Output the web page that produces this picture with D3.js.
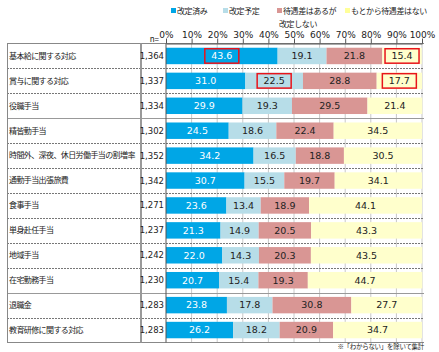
<!DOCTYPE html>
<html>
<head>
<meta charset="utf-8">
<script src="https://cdn.jsdelivr.net/npm/d3@7"></script>
<style>
  body { margin: 0; background: #fff; }
  svg { display: block; }
  text { font-family: "Noto Sans CJK JP", sans-serif; }
  .num { font-family: "DejaVu Sans", sans-serif; }
</style>
</head>
<body>
<div id="chart"></div>
<script>
// 処遇改善の状況（項目別）
var categories = ['基本給に関する対応', '賞与に関する対応', '役職手当', '精皆勤手当',
  '時間外、深夜、休日労働手当の割増率', '通勤手当出張旅費', '食事手当', '単身赴任手当',
  '地域手当', '在宅勤務手当', '退職金', '教育研修に関する対応'];
var nLabels = ['1,364', '1,337', '1,334', '1,302', '1,352', '1,342', '1,271', '1,237', '1,242', '1,230', '1,283', '1,283'];

var seriesNames = ['改定済み', '改定予定', '待遇差はあるが改定しない', 'もとから待遇差はない'];
var revised   = [43.6, 31.0, 29.9, 24.5, 34.2, 30.7, 23.6, 21.3, 22.0, 20.7, 23.8, 26.2];
var planned   = [19.1, 22.5, 19.3, 18.6, 16.5, 15.5, 13.4, 14.9, 14.3, 15.4, 17.8, 18.2];
var notRevise = [21.8, 28.8, 29.5, 22.4, 18.8, 19.7, 18.9, 20.5, 20.3, 19.3, 30.8, 20.9];
var noGap     = [15.4, 17.7, 21.4, 34.5, 30.5, 34.1, 44.1, 43.3, 43.5, 44.7, 27.7, 34.7];
var tickValues = [0, 10, 20, 30, 40, 50, 60, 70, 80, 90, 100];
// 赤枠で強調されたラベル [行, 系列]
var highlights = [[0, 0], [0, 3], [1, 1], [1, 3]];
// 実線で区切られた行の下
var solidAfter = [2, 9];

var colors = ['#00A6E6', '#B7DDE8', '#D99694', '#FFFFCC'];
var textColors = ['#fff', '#222', '#222', '#222'];

var width = 439, height = 352;
var tableLeft = 7, tableRight = 424, labelDiv = 141;
var plotTop = 43.5, plotBottom = 342.5;

var svg = d3.select('#chart').append('svg')
    .attr('width', width)
    .attr('height', height);

var x = d3.scaleLinear().domain([0, 100]).range([166, 422]);
var y = d3.scaleBand().domain(d3.range(categories.length)).range([plotTop, plotBottom])
    .paddingInner(0.34).paddingOuter(0.17);
var step = y.step();
var rowTop = function(i) { return plotTop + i * step; };

var values = [revised, planned, notRevise, noGap];

// gridlines
svg.append('g').selectAll('line').data(tickValues.slice(1))
  .enter().append('line')
    .attr('x1', d => x(d)).attr('x2', d => x(d))
    .attr('y1', plotTop).attr('y2', plotBottom)
    .attr('stroke', '#c8c8c8').attr('stroke-width', 1);

// row separators
svg.append('g').selectAll('line').data(d3.range(1, categories.length))
  .enter().append('line')
    .attr('x1', tableLeft).attr('x2', tableRight)
    .attr('y1', i => Math.round(rowTop(i)) + 0.5).attr('y2', i => Math.round(rowTop(i)) + 0.5)
    .attr('stroke', i => solidAfter.indexOf(i - 1) >= 0 ? '#999' : '#777')
    .attr('stroke-width', 1)
    .attr('stroke-dasharray', i => solidAfter.indexOf(i - 1) >= 0 ? null : '2,1');

// stacked bars
var stack = d3.stack().keys([0, 1, 2, 3]).value((d, k) => values[k][d]);
var stacked = stack(d3.range(categories.length));

var layers = svg.append('g').selectAll('g').data(stacked)
  .enter().append('g')
    .attr('fill', (d, i) => colors[i]);

layers.selectAll('rect').data(d => d)
  .enter().append('rect')
    .attr('x', d => x(d[0]))
    .attr('width', d => x(d[1]) - x(d[0]))
    .attr('y', (d, i) => y(i))
    .attr('height', y.bandwidth());

layers.selectAll('text').data(d => d)
  .enter().append('text')
    .attr('class', 'num')
    .attr('x', d => (x(d[0]) + x(d[1])) / 2)
    .attr('y', (d, i) => y(i) + y.bandwidth() / 2)
    .attr('dy', '0.35em')
    .attr('text-anchor', 'middle')
    .attr('font-size', 9.5)
    .attr('fill', function() { return textColors[d3.select(this.parentNode).datum().key]; })
    .text(function(d, i) { return values[d3.select(this.parentNode).datum().key][i].toFixed(1); });

// red boxes
svg.append('g').selectAll('rect').data(highlights)
  .enter().append('rect')
    .attr('x', h => (x(stacked[h[1]][h[0]][0]) + x(stacked[h[1]][h[0]][1])) / 2 - 17)
    .attr('y', h => y(h[0]) + 1)
    .attr('width', 34)
    .attr('height', y.bandwidth() - 2)
    .attr('fill', 'none')
    .attr('stroke', '#E8141B')
    .attr('stroke-width', 1.5);

// table frame (no right border)
var frame = svg.append('g').attr('stroke', '#888').attr('fill', 'none');
frame.append('line').attr('x1', tableLeft).attr('x2', tableRight).attr('y1', plotTop).attr('y2', plotTop);
frame.append('line').attr('x1', tableLeft).attr('x2', tableRight).attr('y1', plotBottom).attr('y2', plotBottom);
frame.append('line').attr('x1', tableLeft + 0.5).attr('x2', tableLeft + 0.5).attr('y1', plotTop).attr('y2', plotBottom);
svg.append('line')
    .attr('x1', labelDiv).attr('x2', labelDiv).attr('y1', plotTop).attr('y2', plotBottom)
    .attr('stroke', '#999').attr('stroke-width', 2);

// category labels and n
var rows = svg.append('g').selectAll('g').data(categories)
  .enter().append('g');
rows.append('text')
    .attr('x', 9)
    .attr('y', (d, i) => y(i) + y.bandwidth() / 2)
    .attr('dy', '0.35em')
    .attr('font-size', 8)
    .attr('letter-spacing', -0.6)
    .attr('fill', '#222')
    .text(d => d);
rows.append('text')
    .attr('class', 'num')
    .attr('x', 164)
    .attr('y', (d, i) => y(i) + y.bandwidth() / 2)
    .attr('dy', '0.35em')
    .attr('text-anchor', 'end')
    .attr('font-size', 8.5)
    .attr('fill', '#222')
    .text((d, i) => nLabels[i]);

// top axis
var axis = svg.append('g')
    .attr('transform', 'translate(0,' + plotTop + ')')
    .call(d3.axisTop(x).tickValues(tickValues).tickFormat(d => d + '%').tickSize(5).tickSizeOuter(0));
axis.select('.domain').attr('stroke', '#555');
axis.selectAll('.tick line').attr('stroke', '#555');
axis.selectAll('.tick text').attr('class', 'num').attr('font-size', 9).attr('fill', '#222')
    .attr('y', -6).attr('dy', 0);

svg.append('line')
    .attr('x1', x(0)).attr('x2', x(0)).attr('y1', plotTop).attr('y2', plotBottom)
    .attr('stroke', '#555');

svg.append('text')
    .attr('x', 159).attr('y', 42)
    .attr('text-anchor', 'end')
    .attr('font-size', 8).attr('fill', '#222')
    .text('n=');

// legend
var legendX = [171, 223, 277, 345];
var legend = svg.append('g').selectAll('g').data(seriesNames)
  .enter().append('g')
    .attr('transform', (d, i) => 'translate(' + legendX[i] + ',11)');
legend.append('rect')
    .attr('x', 0).attr('y', -3).attr('width', 5).attr('height', 5)
    .attr('fill', (d, i) => colors[i] === '#FFFFCC' ? '#FFFF99' : colors[i]);
legend.append('text')
    .attr('x', 6).attr('dy', '0.35em')
    .attr('font-size', 8).attr('letter-spacing', -0.4).attr('fill', '#222')
    .text(d => d === '待遇差はあるが改定しない' ? '待遇差はあるが' : d);
svg.append('text')
    .attr('x', 279).attr('y', 24).attr('dy', '0.35em')
    .attr('font-size', 8).attr('letter-spacing', -0.4).attr('fill', '#222')
    .text('改定しない');

// footnote
svg.append('text')
    .attr('x', 424).attr('y', 347).attr('dy', '0.35em')
    .attr('text-anchor', 'end')
    .attr('font-size', 6.5).attr('letter-spacing', -0.3).attr('fill', '#222')
    .text('※「わからない」を除いて集計');
</script>
</body>
</html>
